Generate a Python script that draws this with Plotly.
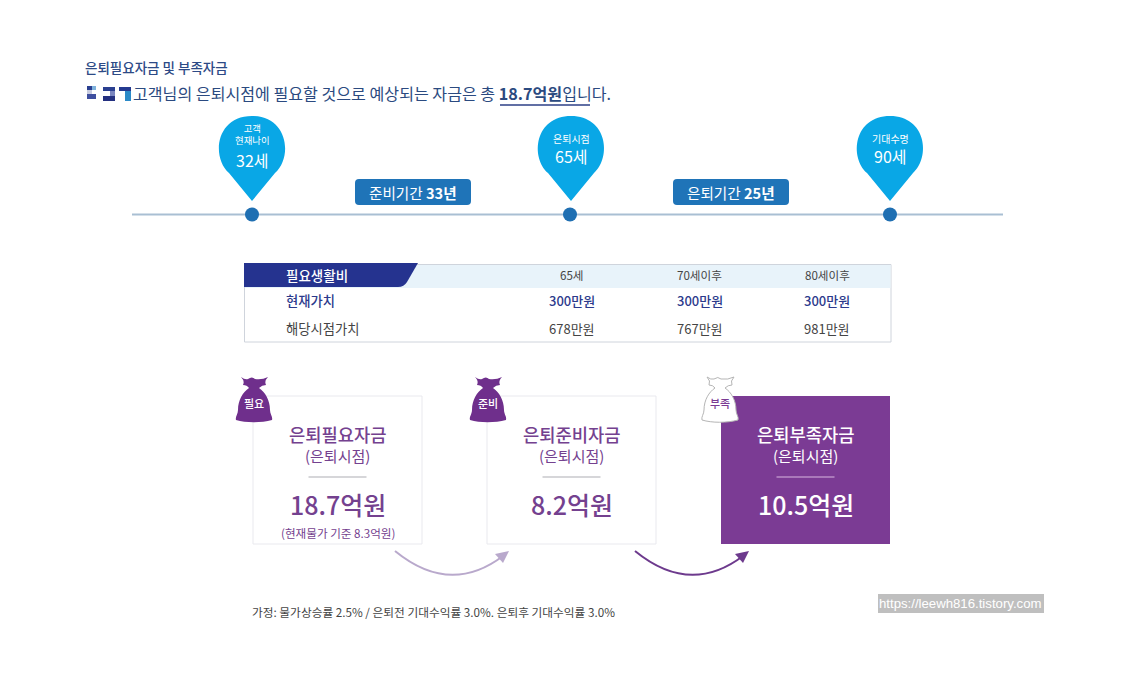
import plotly.graph_objects as go

FONT = "Noto Sans CJK KR"
NAVY = "#2c3a8c"
PURPLE = "#7b3b94"
TEXT_PURPLE = "#74418f"
SKY = "#09a7e6"
BLUE = "#1f74b8"

heading = "은퇴필요자금 및 부족자금"
sentence_parts = ["고객님의 은퇴시점에 필요할 것으로 예상되는 자금은 총 ", "18.7억원", "입니다."]

pin_labels = [["고객", "현재나이"], ["은퇴시점"], ["기대수명"]]
pin_ages = ["32세", "65세", "90세"]
period_names = ["준비기간", "은퇴기간"]
period_years = ["33년", "25년"]

table_columns = ["65세", "70세이후", "80세이후"]
table_title = "필요생활비"
row_names = ["현재가치", "해당시점가치"]
present_values = ["300만원", "300만원", "300만원"]
future_values = ["678만원", "767만원", "981만원"]

card_titles = ["은퇴필요자금", "은퇴준비자금", "은퇴부족자금"]
card_sub = "(은퇴시점)"
card_amounts = ["18.7억원", "8.2억원", "10.5억원"]
card_tags = ["필요", "준비", "부족"]
card_note = "(현재물가 기준 8.3억원)"
assumption = "가정: 물가상승률 2.5% / 은퇴전 기대수익률 3.0%. 은퇴후 기대수익률 3.0%"
watermark = "https://leewh816.tistory.com"

shapes, notes = [], []


def text(x, y, s, size, color, anchor="center", bold=False, font=FONT, weight=400):
    if anchor == "left":
        x -= 1
    notes.append(dict(x=x, y=y - 1, xref="x", yref="y", text=f"<b>{s}</b>" if bold else s,
                      showarrow=False, xanchor=anchor, yanchor="middle", borderpad=0,
                      font=dict(family=font, size=size, color=color, weight=weight)))


def rect(x0, y0, x1, y1, fill="rgba(0,0,0,0)", line=None, width=1):
    shapes.append(dict(type="rect", x0=x0, y0=y0, x1=x1, y1=y1, fillcolor=fill,
                       line=dict(color=line or fill, width=width if line else 0)))


def path(d, fill="rgba(0,0,0,0)", line=None, width=1):
    shapes.append(dict(type="path", path=d, fillcolor=fill,
                       line=dict(color=line or fill, width=width if line else 0)))


def hline(x0, x1, y, color, width=1, layer="above"):
    shapes.append(dict(type="line", x0=x0, x1=x1, y0=y, y1=y, layer=layer,
                       line=dict(color=color, width=width)))


# heading
text(85, 68, heading, 13.5, "#2d4a86", "left", weight=500)
text(133, 94, sentence_parts[0] + f"<b>{sentence_parts[1]}</b>" + sentence_parts[2], 16.1, "#2b4a80", "left")
hline(500, 590, 105, "#2c3f86", 1.5)
# masked name blocks
for b in [(87, 86, 92, 90, "#2a3f90"), (92, 86, 96, 90, "#7fb2dc"), (87, 90, 92, 94, "#c8cce0"),
          (87, 94, 96, 99, "#3f4f9f"),
          (103, 87, 115, 91, "#2a3f90"), (110, 91, 115, 96, "#7a86c0"), (103, 96, 115, 101, "#243080"),
          (119, 87, 131, 91, "#243a90"), (125, 91, 131, 101, "#2b8ac8")]:
    rect(b[0], b[1], b[2], b[3], b[4])

# timeline
hline(132, 1003, 214.5, "#a9bfd3", 2, layer="below")
pin_x = [252, 571, 890]
dot_x = [252, 570, 890]
for cx, lines, age in zip(pin_x, pin_labels, pin_ages):
    path(f"M {cx - 23},{173} C {cx - 41},{157} {cx - 36},{116} {cx},{116} "
         f"C {cx + 36},{116} {cx + 41},{157} {cx + 23},{173} L {cx},{201} Z", SKY)
    if len(lines) == 2:
        text(cx, 134.5, "<br>".join(lines), 9.4, "white")
        text(cx, 161, age, 16, "white")
    else:
        text(cx, 139, lines[0], 10, "white")
        text(cx, 157, age, 16, "white")

for x0, name, yrs in zip([355, 673], period_names, period_years):
    x1, y0, y1, r = x0 + 116, 179, 205, 4
    path(f"M {x0 + r},{y0} L {x1 - r},{y0} Q {x1},{y0} {x1},{y0 + r} L {x1},{y1 - r} Q {x1},{y1} {x1 - r},{y1} "
         f"L {x0 + r},{y1} Q {x0},{y1} {x0},{y1 - r} L {x0},{y0 + r} Q {x0},{y0} {x0 + r},{y0} Z", BLUE)
    text(x0 + 58, 193, f"{name} <b>{yrs}</b>", 14.6, "white")

# table
rect(244.5, 264.5, 891, 342, "white", "#cfd4dc", 1)
rect(245, 265, 890.5, 288, "#e8f3fa")
path("M 244,263 L 418,263 L 407,282 Q 404,287 398,287 L 244,287 Z", "#25338f")
text(286, 276, table_title, 13.5, "white", "left", weight=500)
col_x = [571.5, 699.5, 827]
row_y = [276, 301, 329]
text(286, row_y[1], row_names[0], 13.3, NAVY, "left", weight=500)
text(286, row_y[2], row_names[1], 13.3, "#444444", "left")
for x, h, p, f in zip(col_x, table_columns, present_values, future_values):
    text(x, row_y[0], h, 11.6, "#444444")
    text(x, row_y[1], p, 13, NAVY, weight=500)
    text(x, row_y[2], f, 13, "#444444")


def bag(x, fill, line=None):
    # x is the left edge of the bag
    path(f"M {x + 5},{377} Q {x + 9},{380} {x + 12},{379} Q {x + 16},{376} {x + 19},{379} Q {x + 26},{380} {x + 32},{377} "
         f"Q {x + 28},{381} {x + 30},{385} Q {x + 26},{385} {x + 23},{388} "
         f"C {x + 29},{392} {x + 34},{400} {x + 34},{410} C {x + 34},{414} {x + 37},{417} {x + 36},{420} "
         f"C {x + 25},{423} {x + 10},{423} {x},{420} C {x - 1},{417} {x + 2},{414} {x + 2},{410} "
         f"C {x + 2},{400} {x + 7},{392} {x + 13},{388} Q {x + 11},{385} {x + 7},{385} Q {x + 9},{381} {x + 5},{377} Z",
         fill, line, 1)


card_x = [253, 487, 721]
card_w = 169
bag_x = [236, 470, 702]
for i, (x, title, amt, tag, bx) in enumerate(zip(card_x, card_titles, card_amounts, card_tags, bag_x)):
    dark = i == 2
    if dark:
        rect(x, 396, x + card_w, 544, PURPLE)
    else:
        rect(x, 396, x + card_w, 544, "white", "#e9e9ee", 1)
    c = x + card_w / 2
    tc = "white" if dark else TEXT_PURPLE
    text(c, 435, title, 17.7, tc, weight=500)
    text(c, 456, card_sub, 15, tc)
    hline(c - 29, c + 29, 477, "#d9b8e0" if dark else "#aeaeb4", 1.2)
    text(c, 505, amt, 25, tc, weight=500)
    if dark:
        bag(bx, "white", "#b5b5b5")
    else:
        bag(bx, "#6f2f8c")
    text(bx + 18, 404, tag, 11, "#7b3b94" if dark else "white", weight=500)
text(338, 534, card_note, 11.6, TEXT_PURPLE)

# arrows
for x0, col, w in [(395, "#b9a9cc", 2), (635, "#6d3a8d", 2)]:
    path(f"M {x0},{551} Q {x0 + 55},{596} {x0 + 108},{556}", "rgba(0,0,0,0)", col, w)
    path(f"M {x0 + 114},{551} L {x0 + 108},{563} L {x0 + 100},{554} Z", col)

text(252, 612, assumption, 11.7, "#444444", "left")

rect(878, 594, 1044, 613, "#bfbfbf")
text(879, 604, watermark, 13.2, "white", "left", font="Liberation Sans")

fig = go.Figure(go.Scatter(x=dot_x, y=[214.5] * len(dot_x), mode="markers",
                           marker=dict(size=14, color="#1f6fb2"), hoverinfo="skip"))
fig.update_layout(
    width=1134, height=680, margin=dict(l=0, r=0, t=0, b=0),
    paper_bgcolor="white", plot_bgcolor="rgba(0,0,0,0)", showlegend=False,
    xaxis=dict(range=[0, 1134], visible=False, fixedrange=True),
    yaxis=dict(range=[680, 0], visible=False, fixedrange=True),
    shapes=shapes, annotations=notes,
)
fig.write_html("out.html", post_script="document.body.style.margin='0';",
               config=dict(displayModeBar=False))
